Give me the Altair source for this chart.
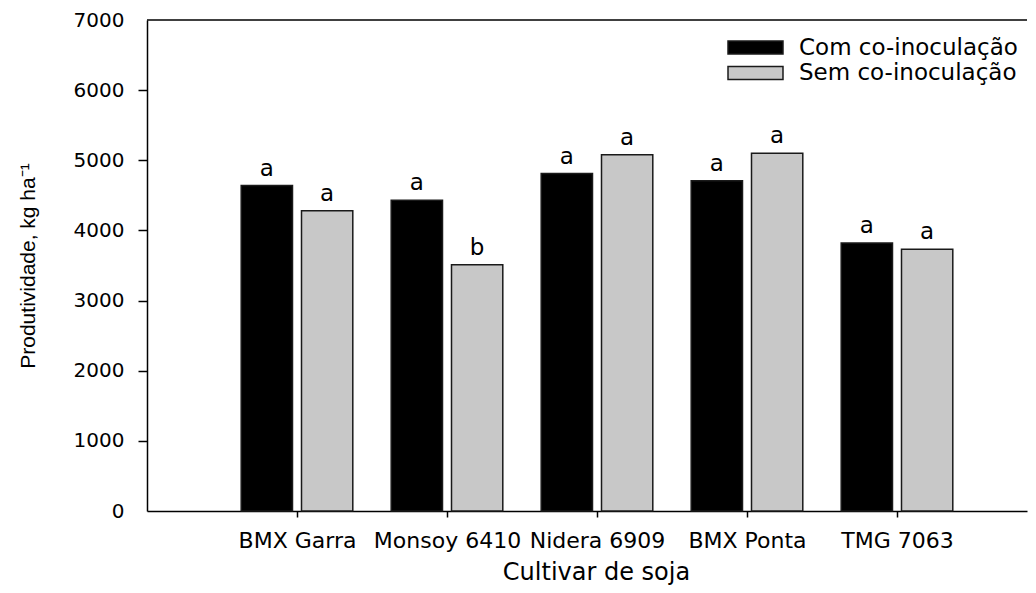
import altair as alt
import pandas as pd

cultivares = ["BMX Garra", "Monsoy 6410", "Nidera 6909", "BMX Ponta", "TMG 7063"]
com_coinoc = [4640, 4430, 4810, 4710, 3820]
sem_coinoc = [4280, 3510, 5080, 5100, 3730]
letras_com = ["a", "a", "a", "a", "a"]
letras_sem = ["a", "b", "a", "a", "a"]
grupos = ["Com co-inoculação", "Sem co-inoculação"]
y_ticks = [0, 1000, 2000, 3000, 4000, 5000, 6000, 7000]
y_top = [7000]

rows = []
for i, c in enumerate(cultivares):
    rows.append({"cultivar": c, "pos": i + 1, "grupo": grupos[0],
                 "valor": com_coinoc[i], "letra": letras_com[i]})
    rows.append({"cultivar": c, "pos": i + 1, "grupo": grupos[1],
                 "valor": sem_coinoc[i], "letra": letras_sem[i]})
df = pd.DataFrame(rows)

FONT = "DejaVu Sans"
xscale = alt.Scale(domain=[0, 5.8667], nice=False, zero=False)
yscale = alt.Scale(domain=[0, 7000], nice=False)

label_expr = "[" + ",".join("'%s'" % c for c in cultivares) + "][datum.value - 1]"

x_axis = alt.Axis(
    values=[1, 2, 3, 4, 5], labelExpr=label_expr, title="Cultivar de soja",
    titleFont=FONT, titleFontSize=24, titleFontWeight="normal",
    titleX=449, titleY=68, titleBaseline="alphabetic", titleAlign="center",
    tickSize=6, labelPadding=13, labelFont=FONT, labelFontSize=22,
    labelOverlap=False, labelFlush=False, labelBound=False)

y_axis = alt.Axis(
    values=y_ticks, format="d", title="Produtividade, kg ha⁻¹",
    titleFont="Liberation Sans", titleFontSize=21, titleFontWeight="normal",
    titleX=-113, titleY=245.5, titleBaseline="alphabetic", titleAlign="center",
    titleAngle=270,
    labelFont=FONT, labelFontSize=20, labelPadding=14, tickSize=9,
    tickOpacity={"condition": {"test": "datum.value == 0 || datum.value == 7000", "value": 0}, "value": 1})

base = alt.Chart(df).transform_calculate(
    x0="datum.pos + (datum.grupo == '%s' ? -0.372 : 0.03)" % grupos[0]
).transform_calculate(
    x1="datum.x0 + 0.342", xm="datum.x0 + 0.171"
)

bars = base.mark_bar(stroke="#1a1a1a", strokeWidth=1.5).encode(
    x=alt.X("x0:Q", scale=xscale, axis=x_axis),
    x2="x1:Q",
    y=alt.Y("valor:Q", scale=yscale, stack=None, axis=y_axis),
    y2=alt.datum(0),
    fill=alt.Fill("grupo:N", scale=alt.Scale(domain=grupos, range=["#000000", "#c8c8c8"]),
                  legend=alt.Legend(
                      title=None, orient="none", legendX=597, legendY=16, padding=0,
                      symbolType="M-4.23,-1H4.23V1H-4.23Z", symbolSize=169,
                      symbolStrokeColor="#1a1a1a", symbolStrokeWidth=1.5, symbolOpacity=1,
                      labelFont=FONT, labelFontSize=23, labelOffset=32, rowPadding=1.5,
                      labelLimit=400, labelColor="black")),
)

letters = base.mark_text(font=FONT, fontSize=23, baseline="alphabetic", dy=-10,
                         color="black").encode(
    x=alt.X("xm:Q", scale=xscale, axis=x_axis),
    y=alt.Y("valor:Q", scale=yscale, axis=y_axis),
    text="letra:N",
)

top = alt.Chart(pd.DataFrame({"y": y_top})).mark_rule(color="black", strokeWidth=1.5).encode(
    y=alt.Y("y:Q", scale=yscale, axis=y_axis)
)

chart = alt.layer(bars, letters, top).properties(
    width=880, height=491,
    autosize=alt.AutoSizeParams(type="none"),
    padding={"left": 139, "top": 12, "right": 1, "bottom": 74},
).configure_view(stroke=None).configure_axis(
    grid=False, domainColor="black", domainWidth=1.5, tickColor="black", tickWidth=1.5,
    labelColor="black", titleColor="black"
)

chart.save("out.html", embed_options={"renderer": "svg", "actions": False})
